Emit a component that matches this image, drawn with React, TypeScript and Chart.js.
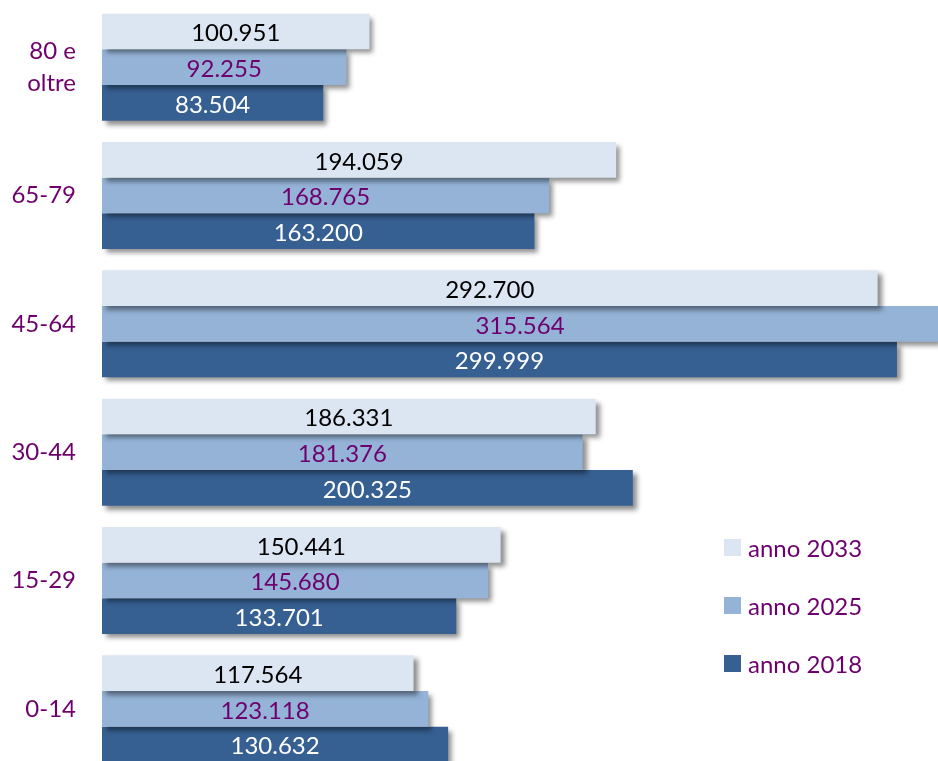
import React, { useEffect, useRef } from 'react';
import { Chart, registerables } from 'chart.js';

Chart.register(...registerables);

const categories: (string | string[])[] = [['80 e', 'oltre'], '65-79', '45-64', '30-44', '15-29', '0-14'];
const seriesLabels = ['anno 2033', 'anno 2025', 'anno 2018'];
const values2033 = [100951, 194059, 292700, 186331, 150441, 117564];
const values2025 = [92255, 168765, 315564, 181376, 145680, 123118];
const values2018 = [83504, 163200, 299999, 200325, 133701, 130632];
const xMax = 315500;

const barColors = ['#dce6f2', '#95b3d7', '#366092'];
const valueLabelColors = ['#000000', '#6e006e', '#ffffff'];
const PURPLE = '#6e006e';
const FONT = 'Lato, "Open Sans", sans-serif';

function fmt(v: number): string {
  return String(Math.round(v)).replace(/\B(?=(\d{3})+(?!\d))/g, '.');
}

const decorPlugin = {
  id: 'decor',
  beforeDatasetsDraw(chart: any) {
    const ctx = chart.ctx;
    ctx.save();
    ctx.shadowColor = 'rgba(0,0,0,0.45)';
    ctx.shadowBlur = 5;
    ctx.shadowOffsetX = 4;
    ctx.shadowOffsetY = 4;
  },
  afterDatasetsDraw(chart: any) {
    const ctx = chart.ctx;
    ctx.restore();
    const area = chart.chartArea;
    ctx.save();
    ctx.font = `24px ${FONT}`;
    ctx.textAlign = 'center';
    ctx.textBaseline = 'middle';
    chart.data.datasets.forEach((ds: any, di: number) => {
      const meta = chart.getDatasetMeta(di);
      meta.data.forEach((el: any, i: number) => {
        const end = Math.min(el.x, area.right);
        const cx = (el.base + end) / 2;
        ctx.fillStyle = valueLabelColors[di];
        ctx.fillText(fmt(ds.data[i]), cx, el.y + 2);
      });
    });
    // legend
    const lx = 724;
    const ly = 548;
    const step = 58;
    chart.data.datasets.forEach((ds: any, di: number) => {
      const y = ly + di * step;
      ctx.fillStyle = ds.backgroundColor;
      ctx.fillRect(lx, y - 9, 17, 17);
      ctx.fillStyle = PURPLE;
      ctx.textAlign = 'left';
      ctx.fillText(ds.label, lx + 24, y + 1);
    });
    ctx.restore();
  },
};

export default function App() {
  const ref = useRef<HTMLCanvasElement | null>(null);
  useEffect(() => {
    if (!ref.current) return;
    const allSeries = [values2033, values2025, values2018];
    const chart = new Chart(ref.current, {
      type: 'bar',
      data: {
        labels: categories,
        datasets: allSeries.map((vals, i) => ({
          label: seriesLabels[i],
          data: vals,
          backgroundColor: barColors[i],
          borderWidth: 0,
          barPercentage: 1,
          categoryPercentage: 0.834,
        })),
      },
      options: {
        indexAxis: 'y',
        responsive: false,
        animation: false,
        layout: { padding: { top: 3, bottom: 3, left: 0, right: 0 } },
        plugins: {
          legend: { display: false },
          tooltip: { enabled: false },
        },
        scales: {
          x: { display: false, min: 0, max: xMax },
          y: {
            grid: { display: false, drawTicks: false },
            border: { display: false },
            ticks: {
              color: PURPLE,
              padding: 26,
              font: { family: FONT, size: 24, lineHeight: 1.35 },
            },
            afterFit: (scale: any) => {
              scale.width = 102;
              scale.paddingTop = 0;
              scale.paddingBottom = 0;
            },
          },
        },
      },
      plugins: [decorPlugin],
    } as any);
    return () => chart.destroy();
  }, []);
  return (
    <div style={{ position: 'fixed', left: 0, top: 0, width: 938, height: 761, overflow: 'hidden', background: '#fff' }}>
      <canvas ref={ref} width={938} height={776} />
    </div>
  );
}
